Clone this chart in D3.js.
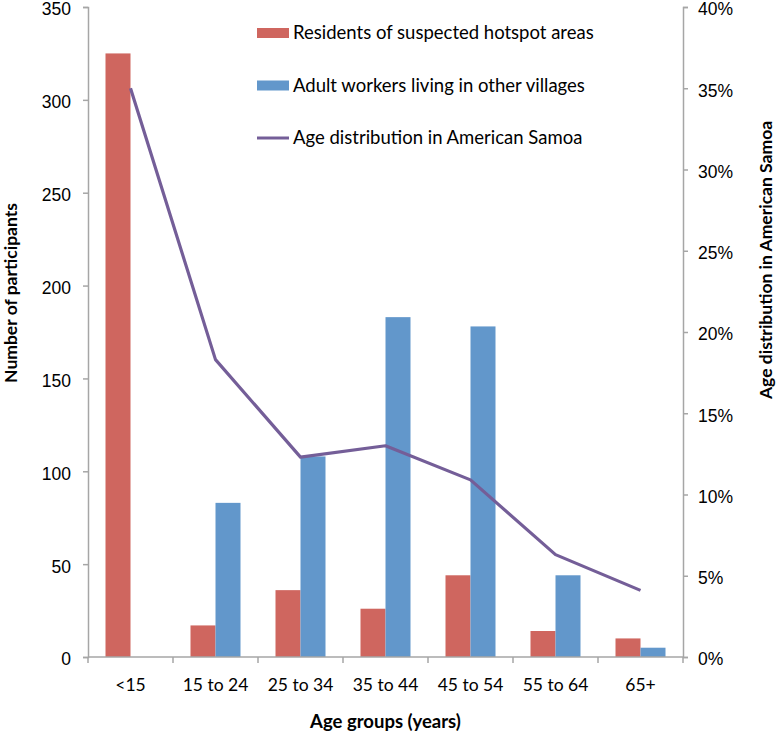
<!DOCTYPE html>
<html>
<head>
<meta charset="utf-8">
<script src="https://cdn.jsdelivr.net/npm/d3@7"></script>
<style>
  body { margin: 0; background: #fff; }
  svg { display: block; font-family: Lato, "Open Sans", sans-serif; }
</style>
</head>
<body>
<div id="chart"></div>
<script>
// age groups and series
const categories = ["<15", "15 to 24", "25 to 34", "35 to 44", "45 to 54", "55 to 64", "65+"];
const residents = [325, 17, 36, 26, 44, 14, 10];
const workers = [0, 83, 108, 183, 178, 44, 5];
const ageDist = [0.350, 0.183, 0.123, 0.130, 0.109, 0.063, 0.041];
const leftTicks = [0, 50, 100, 150, 200, 250, 300, 350];
const rightTicks = [0, 0.05, 0.10, 0.15, 0.20, 0.25, 0.30, 0.35, 0.40];
const seriesNames = ["Residents of suspected hotspot areas", "Adult workers living in other villages"];
const lineName = "Age distribution in American Samoa";

const width = 778, height = 736;
const margin = { top: 7, right: 95, bottom: 79, left: 88 };
const axisColor = "#a6a6a6";
const red = "#cf665f", blue = "#6297cb", purple = "#745e98";

const svg = d3.select("#chart").append("svg")
    .attr("width", width)
    .attr("height", height);

const x = d3.scaleBand()
    .domain(categories)
    .range([margin.left, width - margin.right])
    .paddingInner(0)
    .paddingOuter(0);

const xSub = d3.scaleBand()
    .domain(["residents", "workers"])
    .range([0, x.bandwidth()])
    .paddingInner(0)
    .paddingOuter(0.7);

const y = d3.scaleLinear().domain([0, 350]).range([height - margin.bottom, margin.top]);
const y2 = d3.scaleLinear().domain([0, 0.40]).range([height - margin.bottom, margin.top]);

// --- bars ---
const rows = categories.map((c, i) => ({ c, residents: residents[i], workers: workers[i] }));
const groups = svg.append("g").selectAll("g")
    .data(rows)
    .join("g")
    .attr("transform", d => `translate(${x(d.c)},0)`);

groups.append("rect")
    .attr("x", xSub("residents"))
    .attr("width", xSub.bandwidth())
    .attr("y", d => y(d.residents))
    .attr("height", d => y(0) - y(d.residents))
    .attr("fill", red);

groups.filter(d => d.workers > 0).append("rect")
    .attr("x", xSub("workers"))
    .attr("width", xSub.bandwidth())
    .attr("y", d => y(d.workers))
    .attr("height", d => y(0) - y(d.workers))
    .attr("fill", blue);

// --- axes ---
const styleAxis = g => {
    g.select(".domain").attr("stroke", axisColor).attr("stroke-width", 1.5);
    g.selectAll(".tick line").attr("stroke", axisColor).attr("stroke-width", 1.5);
    g.selectAll(".tick text").attr("fill", "#000").attr("dy", "0.45em").style("font-size", "17.5px");
};

svg.append("g")
    .attr("transform", `translate(${margin.left},0)`)
    .call(d3.axisLeft(y).tickValues(leftTicks).tickSize(5).tickSizeOuter(5).tickPadding(12))
    .call(styleAxis);

svg.append("g")
    .attr("transform", `translate(${width - margin.right},0)`)
    .call(d3.axisRight(y2).tickValues(rightTicks).tickFormat(d3.format(".0%")).tickSize(5).tickSizeOuter(5).tickPadding(10))
    .call(styleAxis);

// x axis: ticks between the groups, labels centred under them
const xAxis = svg.append("g")
    .attr("transform", `translate(0,${height - margin.bottom})`);
xAxis.append("line")
    .attr("x1", margin.left).attr("x2", width - margin.right)
    .attr("stroke", axisColor).attr("stroke-width", 1.5);
xAxis.selectAll("line.tk")
    .data(categories.concat(["end"]))
    .join("line")
    .attr("class", "tk")
    .attr("x1", (d, i) => i < categories.length ? x(d) : x(categories[categories.length - 1]) + x.bandwidth())
    .attr("x2", (d, i) => i < categories.length ? x(d) : x(categories[categories.length - 1]) + x.bandwidth())
    .attr("y1", 0).attr("y2", 6)
    .attr("stroke", axisColor).attr("stroke-width", 1.5);
xAxis.selectAll("text")
    .data(categories)
    .join("text")
    .attr("x", d => x(d) + x.bandwidth() / 2)
    .attr("y", 34)
    .attr("text-anchor", "middle")
    .style("font-size", "17.5px")
    .text(d => d);

// --- line ---
const line = d3.line()
    .x((d, i) => x(categories[i]) + x.bandwidth() / 2)
    .y(d => y2(d));

svg.append("path")
    .datum(ageDist)
    .attr("d", line)
    .attr("fill", "none")
    .attr("stroke", purple)
    .attr("stroke-width", 3.2)
    .attr("stroke-linejoin", "round");

// --- axis titles ---
svg.append("text")
    .attr("transform", "translate(11,293) rotate(-90)")
    .attr("text-anchor", "middle")
    .attr("dy", "0.35em")
    .style("font-size", "17.5px")
    .style("font-weight", "bold")
    .text("Number of participants");

svg.append("text")
    .attr("transform", "translate(766,260) rotate(-90)")
    .attr("text-anchor", "middle")
    .attr("dy", "0.35em")
    .style("font-size", "17.5px")
    .style("font-weight", "bold")
    .text("Age distribution in American Samoa");

svg.append("text")
    .attr("x", (margin.left + width - margin.right) / 2)
    .attr("y", 728)
    .attr("text-anchor", "middle")
    .style("font-size", "18.5px")
    .style("font-weight", "bold")
    .text("Age groups (years)");

// --- legend ---
const legend = svg.append("g").attr("transform", "translate(257,33)");
const legendItems = [
    { name: seriesNames[0], color: red, type: "rect" },
    { name: seriesNames[1], color: blue, type: "rect" },
    { name: lineName, color: purple, type: "line" }
];
legendItems.forEach((d, i) => {
    const g = legend.append("g").attr("transform", `translate(0,${i * 52.5})`);
    if (d.type === "rect") {
        g.append("rect").attr("x", 0).attr("y", -5).attr("width", 32).attr("height", 10).attr("fill", d.color);
    } else {
        g.append("line").attr("x1", 0).attr("x2", 32).attr("y1", 0).attr("y2", 0)
            .attr("stroke", d.color).attr("stroke-width", 3);
    }
    g.append("text")
        .attr("x", 36)
        .attr("y", 0)
        .attr("dy", "0.35em")
        .style("font-size", "18.5px")
        .text(d.name);
});
</script>
</body>
</html>
